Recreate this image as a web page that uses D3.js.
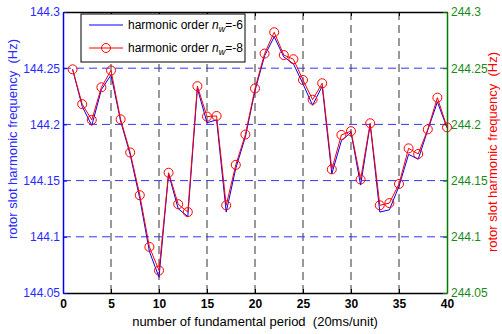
<!DOCTYPE html>
<html lang="en">
<head>
<meta charset="utf-8">
<title>rotor slot harmonic frequency</title>
<script src="https://cdn.jsdelivr.net/npm/d3@7"></script>
<style>
  body { margin: 0; background: #fff; }
  text { font-family: "Liberation Sans", Arial, sans-serif; }
</style>
</head>
<body>
<script>
// data
var periods = d3.range(1, 41);
// harmonic order n_w = -6 (left axis, blue)
var freqN6 = [144.249, 144.216, 144.199, 144.231, 144.244, 144.203, 144.173, 144.134, 144.087, 144.064,
              144.156, 144.125, 144.118, 144.232, 144.2015, 144.204, 144.122, 144.161, 144.189, 144.230,
              144.261, 144.278, 144.260, 144.254, 144.236, 144.217, 144.234, 144.156, 144.1855, 144.193,
              144.146, 144.200, 144.122, 144.124, 144.145, 144.1734, 144.169, 144.195, 144.220, 144.197];
// harmonic order n_w = -8 (right axis, red)
var freqN8 = [244.249, 244.218, 244.204, 244.233, 244.248, 244.2045, 244.175, 244.137, 244.091, 244.070,
              244.157, 244.129, 244.122, 244.234, 244.207, 244.2075, 244.128, 244.164, 244.191, 244.232,
              244.263, 244.282, 244.2617, 244.258, 244.2395, 244.222, 244.2366, 244.160, 244.1906, 244.194,
              244.151, 244.201, 244.128, 244.130, 244.147, 244.1787, 244.1737, 244.1956, 244.2238, 244.1974];
var xTicks = [0, 5, 10, 15, 20, 25, 30, 35, 40];
var yLeftTicks = [144.05, 144.1, 144.15, 144.2, 144.25, 144.3];
var yRightTicks = [244.05, 244.1, 244.15, 244.2, 244.25, 244.3];

var w = 502, h = 334;
var mLeft = 63, mRight = 447, mTop = 12, mBottom = 293;

var svg = d3.select("body").append("svg").attr("width", w).attr("height", h);

var x = d3.scaleLinear().domain([0, 40]).range([mLeft, mRight]);
var yL = d3.scaleLinear().domain([144.05, 144.3]).range([mBottom, mTop]);
var yR = d3.scaleLinear().domain([244.05, 244.3]).range([mBottom, mTop]);

// grid
svg.append("g").selectAll("line").data(xTicks.slice(1, -1)).enter().append("line")
  .attr("x1", d => x(d)).attr("x2", d => x(d))
  .attr("y1", mTop).attr("y2", mBottom)
  .attr("stroke", "#333").attr("stroke-dasharray", "8,5").attr("stroke-width", 1);
svg.append("g").selectAll("line").data(yLeftTicks.slice(1, -1)).enter().append("line")
  .attr("x1", mLeft).attr("x2", mRight)
  .attr("y1", d => yL(d)).attr("y2", d => yL(d))
  .attr("stroke", "#3333ff").attr("stroke-dasharray", "8,5").attr("stroke-width", 1);

// axes
var bottomAxis = svg.append("g").attr("transform", "translate(0," + mBottom + ")")
  .call(d3.axisBottom(x).tickValues(xTicks).tickSizeInner(-4).tickSizeOuter(0).tickPadding(6));
bottomAxis.select(".domain").attr("stroke", "#000").attr("stroke-width", 1.5);
bottomAxis.selectAll("text").attr("font-size", 12).attr("font-weight", "bold").attr("fill", "#000");

var topAxis = svg.append("g").attr("transform", "translate(0," + mTop + ")")
  .call(d3.axisTop(x).tickValues(xTicks).tickSizeInner(-4).tickSizeOuter(0).tickFormat(""));
topAxis.select(".domain").attr("stroke", "#000").attr("stroke-width", 1.5);

var leftAxis = svg.append("g").attr("transform", "translate(" + mLeft + ",0)")
  .call(d3.axisLeft(yL).tickValues(yLeftTicks).tickSizeInner(-4).tickSizeOuter(0).tickPadding(3)
    .tickFormat(d3.format("")));
leftAxis.select(".domain").attr("stroke", "#0000ee").attr("stroke-width", 1.5);
leftAxis.selectAll(".tick line").attr("stroke", "#0000ee");
leftAxis.selectAll("text").attr("font-size", 12).attr("fill", "#2a2aff");

var rightAxis = svg.append("g").attr("transform", "translate(" + mRight + ",0)")
  .call(d3.axisRight(yR).tickValues(yRightTicks).tickSizeInner(-4).tickSizeOuter(0).tickPadding(4)
    .tickFormat(d3.format("")));
rightAxis.select(".domain").attr("stroke", "#007a00").attr("stroke-width", 1.5);
rightAxis.selectAll(".tick line").attr("stroke", "#007a00");
rightAxis.selectAll("text").attr("font-size", 12).attr("fill", "#1a8a1a");

// lines
var lineL = d3.line().x((d, i) => x(periods[i])).y(d => yL(d));
var lineR = d3.line().x((d, i) => x(periods[i])).y(d => yR(d));

svg.append("path").datum(freqN6).attr("d", lineL)
  .attr("fill", "none").attr("stroke", "#0000ff").attr("stroke-width", 1);
svg.append("path").datum(freqN8).attr("d", lineR)
  .attr("fill", "none").attr("stroke", "#ff0000").attr("stroke-width", 1);
svg.append("g").selectAll("circle").data(freqN8).enter().append("circle")
  .attr("cx", (d, i) => x(periods[i])).attr("cy", d => yR(d)).attr("r", 4.5)
  .attr("fill", "none").attr("stroke", "#ff0000").attr("stroke-width", 1);

// axis titles
svg.append("text").attr("transform", "translate(17," + 139 + ") rotate(-90)")
  .attr("text-anchor", "middle").attr("font-size", 13).attr("fill", "#2a2aff")
  .text("rotor slot harmonic frequency\u00a0 (Hz)");
svg.append("text").attr("transform", "translate(497," + 152 + ") rotate(-90)")
  .attr("text-anchor", "middle").attr("font-size", 13).attr("fill", "#ff0000")
  .text("rotor slot harmonic frequency\u00a0 (Hz)");
svg.append("text").attr("x", 255).attr("y", 326)
  .attr("text-anchor", "middle").attr("font-size", 13).attr("fill", "#000")
  .text("number of fundamental period\u00a0 (20ms/unit)");

// legend
var lg = svg.append("g");
lg.append("rect").attr("x", 81).attr("y", 14).attr("width", 164).attr("height", 48)
  .attr("fill", "#fff").attr("stroke", "#000").attr("stroke-width", 1);
lg.append("line").attr("x1", 89).attr("x2", 123).attr("y1", 25).attr("y2", 25)
  .attr("stroke", "#0000ff");
lg.append("line").attr("x1", 89).attr("x2", 123).attr("y1", 48).attr("y2", 48)
  .attr("stroke", "#ff0000");
lg.append("circle").attr("cx", 106).attr("cy", 48).attr("r", 4.5)
  .attr("fill", "none").attr("stroke", "#ff0000");
var legendLabels = ["-6", "-8"];
legendLabels.forEach(function(v, i) {
  var t = lg.append("text").attr("x", 128).attr("y", 29 + i * 23).attr("font-size", 12).attr("fill", "#000");
  t.append("tspan").text("harmonic order ");
  t.append("tspan").attr("font-style", "italic").text("n");
  t.append("tspan").attr("font-style", "italic").attr("font-size", 9).attr("dy", 3).text("w");
  t.append("tspan").attr("dy", -3).text("=" + v);
});
</script>
</body>
</html>
